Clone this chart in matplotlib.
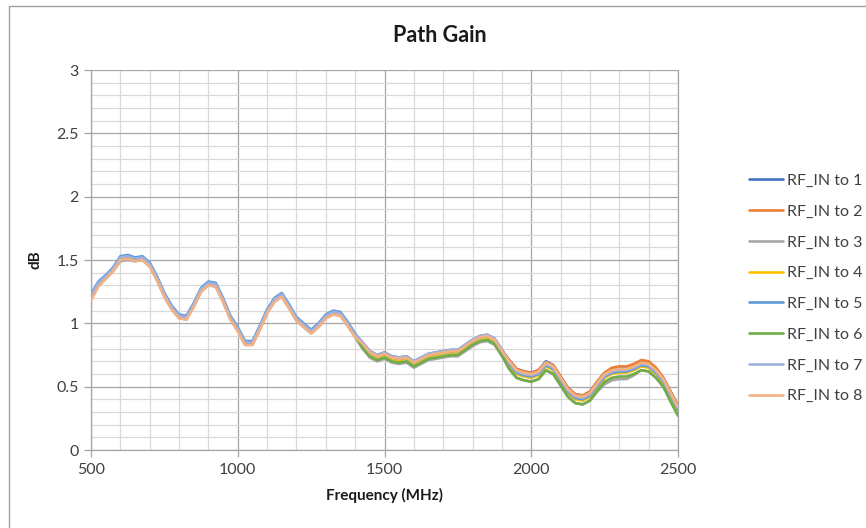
import matplotlib
matplotlib.use("Agg")
import matplotlib.pyplot as plt
from matplotlib.patches import Rectangle
from matplotlib.ticker import MultipleLocator

plt.rcParams['font.family'] = ['Lato', 'DejaVu Sans']

freq = list(range(500, 2501, 25))

s1 = [1.22,1.32,1.37,1.43,1.52,1.53,1.51,1.52,1.47,1.36,1.23,1.13,1.06,1.05,1.15,1.27,1.32,1.31,1.19,1.05,0.96,0.85,0.85,0.97,1.10,1.19,1.23,1.14,1.04,0.99,0.94,0.99,1.06,1.09,1.08,1.00,0.91,
      0.85,0.78,0.75,0.77,0.74,0.73,0.74,0.70,0.73,0.76,0.77,0.78,0.79,0.79,0.83,0.87,0.90,0.91,0.88,0.79,
      0.71,0.64,0.62,0.61,0.63,0.70,0.67,0.58,0.49,0.44,0.43,0.46,0.54,0.61,0.64,0.65,0.65,0.67,0.70,0.69,0.64,0.57,0.46,0.35]
s2 = [1.21,1.31,1.36,1.42,1.51,1.52,1.50,1.51,1.46,1.35,1.22,1.12,1.05,1.04,1.14,1.26,1.31,1.30,1.18,1.04,0.95,0.84,0.84,0.96,1.09,1.18,1.22,1.13,1.03,0.98,0.93,0.98,1.05,1.08,1.07,0.99,0.90,
      0.84,0.77,0.74,0.76,0.73,0.72,0.73,0.69,0.72,0.75,0.76,0.77,0.78,0.78,0.82,0.86,0.89,0.90,0.87,0.78,
      0.71,0.64,0.62,0.61,0.63,0.69,0.67,0.58,0.49,0.44,0.43,0.46,0.54,0.61,0.65,0.66,0.66,0.68,0.71,0.70,0.65,0.57,0.46,0.35]
s3 = [1.20,1.30,1.35,1.41,1.49,1.50,1.49,1.50,1.45,1.34,1.21,1.11,1.04,1.03,1.13,1.25,1.30,1.29,1.17,1.03,0.94,0.83,0.83,0.95,1.08,1.17,1.21,1.12,1.02,0.97,0.92,0.97,1.04,1.07,1.06,0.98,0.89,
      0.80,0.73,0.70,0.72,0.69,0.68,0.69,0.65,0.68,0.71,0.72,0.73,0.74,0.74,0.78,0.82,0.85,0.86,0.83,0.74,
      0.64,0.57,0.55,0.54,0.56,0.63,0.60,0.51,0.42,0.37,0.36,0.39,0.46,0.52,0.55,0.56,0.56,0.59,0.63,0.62,0.57,0.50,0.39,0.28]
s4 = [1.21,1.31,1.36,1.42,1.51,1.52,1.50,1.51,1.46,1.35,1.22,1.12,1.05,1.04,1.14,1.26,1.31,1.30,1.18,1.04,0.95,0.84,0.84,0.96,1.09,1.18,1.22,1.13,1.03,0.98,0.93,0.98,1.05,1.08,1.07,0.99,0.90,
      0.83,0.76,0.73,0.75,0.72,0.71,0.72,0.68,0.71,0.74,0.75,0.76,0.77,0.77,0.81,0.85,0.88,0.89,0.86,0.77,
      0.67,0.60,0.58,0.57,0.59,0.66,0.63,0.54,0.45,0.40,0.39,0.42,0.50,0.57,0.60,0.61,0.61,0.63,0.66,0.65,0.60,0.53,0.42,0.31]
s5 = [1.23,1.33,1.38,1.44,1.53,1.54,1.52,1.53,1.48,1.37,1.24,1.14,1.07,1.06,1.16,1.28,1.33,1.32,1.20,1.06,0.97,0.86,0.86,0.98,1.11,1.20,1.24,1.15,1.05,1.00,0.95,1.00,1.07,1.10,1.09,1.01,0.92,
      0.84,0.77,0.74,0.76,0.73,0.72,0.73,0.69,0.72,0.75,0.76,0.77,0.78,0.78,0.82,0.86,0.89,0.90,0.87,0.78,
      0.68,0.61,0.59,0.58,0.60,0.67,0.64,0.55,0.46,0.41,0.40,0.43,0.51,0.58,0.61,0.62,0.62,0.64,0.67,0.66,0.61,0.54,0.43,0.32]
s6 = [1.21,1.31,1.36,1.42,1.51,1.52,1.50,1.51,1.46,1.35,1.22,1.12,1.05,1.04,1.14,1.26,1.31,1.30,1.18,1.04,0.95,0.84,0.84,0.96,1.09,1.18,1.22,1.13,1.03,0.98,0.93,0.98,1.05,1.08,1.07,0.99,0.90,
      0.81,0.74,0.71,0.73,0.70,0.69,0.70,0.66,0.69,0.72,0.73,0.74,0.75,0.75,0.79,0.83,0.86,0.87,0.84,0.75,
      0.64,0.57,0.55,0.54,0.56,0.63,0.60,0.51,0.42,0.37,0.36,0.39,0.47,0.54,0.57,0.58,0.58,0.60,0.63,0.62,0.57,0.50,0.38,0.27]
s7 = [1.22,1.32,1.37,1.43,1.52,1.53,1.51,1.52,1.47,1.36,1.23,1.13,1.06,1.05,1.15,1.27,1.32,1.31,1.19,1.05,0.96,0.85,0.85,0.97,1.10,1.19,1.23,1.14,1.04,0.99,0.94,0.99,1.06,1.09,1.08,1.00,0.91,
      0.85,0.78,0.75,0.77,0.74,0.73,0.74,0.70,0.73,0.76,0.77,0.78,0.79,0.79,0.83,0.87,0.90,0.91,0.88,0.79,
      0.69,0.62,0.60,0.59,0.61,0.68,0.65,0.56,0.47,0.42,0.41,0.44,0.52,0.59,0.62,0.63,0.63,0.65,0.68,0.67,0.62,0.55,0.44,0.33]
s8 = [1.18,1.29,1.35,1.41,1.50,1.51,1.49,1.50,1.45,1.34,1.21,1.11,1.04,1.03,1.13,1.25,1.30,1.29,1.17,1.03,0.94,0.83,0.83,0.95,1.08,1.17,1.21,1.12,1.02,0.97,0.92,0.97,1.04,1.07,1.06,0.98,0.89,
      0.84,0.77,0.74,0.76,0.73,0.72,0.73,0.69,0.72,0.75,0.76,0.77,0.78,0.78,0.82,0.86,0.89,0.90,0.87,0.78,
      0.70,0.63,0.61,0.60,0.62,0.69,0.66,0.57,0.48,0.43,0.42,0.45,0.53,0.60,0.63,0.64,0.64,0.66,0.69,0.68,0.63,0.56,0.45,0.34]

series = [s1, s2, s3, s4, s5, s6, s7, s8]
labels = ["RF_IN to 1", "RF_IN to 2", "RF_IN to 3", "RF_IN to 4",
          "RF_IN to 5", "RF_IN to 6", "RF_IN to 7", "RF_IN to 8"]
colors = ["#4472C4", "#ED7D31", "#A5A5A5", "#FFC000",
          "#5B9BD5", "#70AD47", "#9DB0E0", "#F4B183"]

x_ticks = [500, 1000, 1500, 2000, 2500]
y_ticks = [0, 0.5, 1, 1.5, 2, 2.5, 3]
y_tick_labels = ["0", "0.5", "1", "1.5", "2", "2.5", "3"]

W, H = 866, 528
fig = plt.figure(figsize=(W / 100, H / 100), dpi=100)
fig.patch.set_facecolor("white")

# outer chart frame
fig.patches.append(Rectangle((9 / W, -0.1), 1.2, 1 - 6 / H + 0.1, transform=fig.transFigure,
                             fill=False, edgecolor="#A0A0A0", linewidth=1.0))

ax = fig.add_axes([91 / W, 1 - 450 / H, (678 - 91) / W, (450 - 70) / H])

for s, lab, c in zip(series, labels, colors):
    ax.plot(freq, s, color=c, linewidth=1.9, label=lab, solid_capstyle="round",
            solid_joinstyle="round", zorder=3)

ax.set_xlim(500, 2500)
ax.set_ylim(0, 3)
ax.set_xticks(x_ticks)
ax.set_xticklabels([str(v) for v in x_ticks])
ax.set_yticks(y_ticks)
ax.set_yticklabels(y_tick_labels)
ax.xaxis.set_minor_locator(MultipleLocator(100))
ax.yaxis.set_minor_locator(MultipleLocator(0.1))

ax.grid(which="major", color="#A6A6A6", linewidth=0.9, zorder=1)
ax.grid(which="minor", color="#D9D9D9", linewidth=0.9, zorder=0)
ax.set_axisbelow(True)

for side in ["left", "bottom"]:
    ax.spines[side].set_color("#A6A6A6")
    ax.spines[side].set_linewidth(0.9)
ax.spines["top"].set_visible(False)
ax.spines["right"].set_color("#A6A6A6")
ax.spines["right"].set_linewidth(0.9)

ax.tick_params(axis="both", which="major", length=5, width=0.9, color="#A6A6A6",
               labelsize=11.5, labelcolor="#404040", direction="out", pad=4)
ax.tick_params(axis="both", which="minor", length=0)

ax.set_xlabel("Frequency (MHz)", fontsize=11, fontweight="bold", color="#1A1A1A", labelpad=8)
ax.set_ylabel("dB", fontsize=11, fontweight="bold", color="#1A1A1A", labelpad=10)

fig.text(440 / W, 1 - 36 / H, "Path Gain", ha="center", va="center",
         fontsize=15.5, fontweight="bold", color="#1A1A1A")

leg = ax.legend(loc="center left", bbox_to_anchor=(749 / W, 1 - 288.5 / H),
                bbox_transform=fig.transFigure, frameon=False, borderpad=0, borderaxespad=0,
                fontsize=11.5, labelcolor="#404040", handlelength=2.1, handletextpad=0.3,
                labelspacing=1.04)

fig.savefig("out.png", dpi=100, facecolor="white")
